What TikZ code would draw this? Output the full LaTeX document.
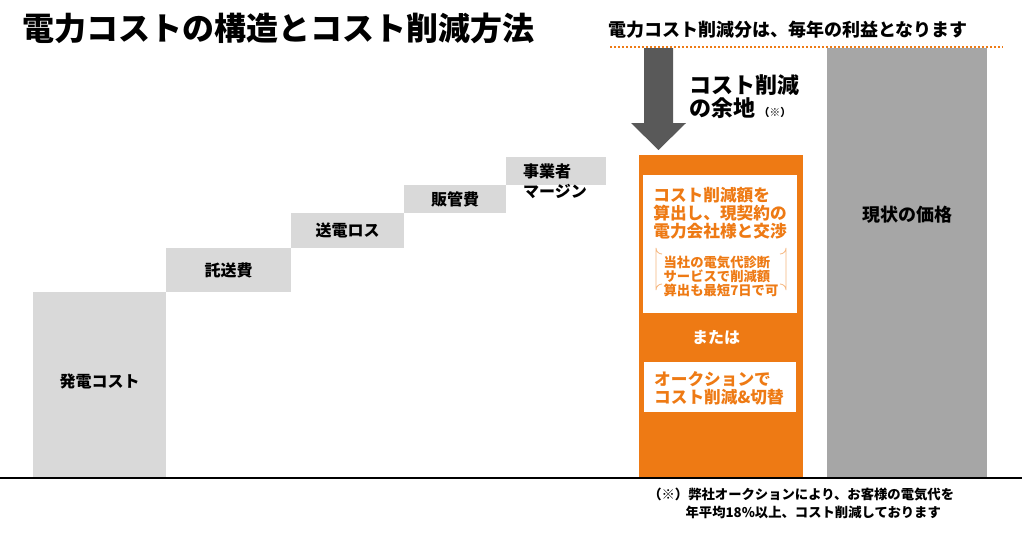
\documentclass[tikz,border=0pt]{standalone}
\usepackage{fontspec}
\setmainfont{Noto Sans CJK JP}
\usetikzlibrary{calc}
\definecolor{org}{HTML}{EE7A14}
\definecolor{lgray}{HTML}{D9D9D9}
\definecolor{dgray}{HTML}{A6A6A6}
\definecolor{arr}{HTML}{595959}
\begin{document}
\begin{tikzpicture}[x=0.75pt,y=-0.75pt,
  stepbox/.style={fill=lgray,draw=none},
  lab/.style={font=\bfseries\fontsize{12}{15}\selectfont,text=black,align=center,inner sep=0},
  otxt/.style={font=\bfseries\fontsize{12.5}{13.5}\selectfont,text=org,align=left,inner sep=0},
  stxt/.style={font=\bfseries\fontsize{10}{10.5}\selectfont,text=org,align=left,inner sep=0}]
\useasboundingbox (0,0) rectangle (1024,533);
% title
\node[anchor=west,inner sep=0,font=\bfseries\fontsize{24}{28}\selectfont] (title) at (22,28) {電力コストの構造とコスト削減方法};
\node[anchor=west,inner sep=0,font=\bfseries\fontsize{13.5}{16}\selectfont] (sub) at (608,30) {電力コスト削減分は、毎年の利益となります};
\draw[org,line width=2pt,dash pattern=on 1.5pt off 1.5pt] (610,47) -- (1003,47);
% steps
\fill[stepbox] (33,292) rectangle (166,478);
\node[lab] (s1) at (99.5,381) {発電コスト};
\fill[stepbox] (166,248) rectangle (291,292);
\node[lab] (s2) at (228.5,270) {託送費};
\fill[stepbox] (291,213) rectangle (404,248);
\node[lab] (s3) at (347.5,230) {送電ロス};
\fill[stepbox] (404,185) rectangle (506,213);
\node[lab] (s4) at (455,199) {販管費};
\fill[stepbox] (506,157) rectangle (606,185);
\node[lab,align=left] (s5) at (555,181) {事業者\\マージン};
% arrow
\fill[arr] (644,48) -- (673,48) -- (673,123) -- (686,123) -- (658.5,150) -- (631,123) -- (644,123) -- cycle;
\node[anchor=west,inner sep=0,font=\bfseries\fontsize{16.5}{19}\selectfont] (cut1) at (689,85) {コスト削減};
\node[anchor=west,inner sep=0,font=\bfseries\fontsize{16.5}{19}\selectfont] (cut2) at (689,108) {の余地\,{\fontsize{8}{9}\selectfont （※）}};
% orange column
\fill[org] (639,155) rectangle (803,478);
\fill[white] (643,175) rectangle (797,313);
\node[otxt] (o1) at (720,213) {コスト削減額を\\算出し、現契約の\\電力会社様と交渉};
\draw[org!55,line width=0.6pt] (662,254) arc[start angle=90,end angle=180,radius=6] -- (656,290) arc[start angle=180,end angle=270,radius=6];
\draw[org!55,line width=0.6pt] (780,254) arc[start angle=90,end angle=0,radius=6] -- (786,290) arc[start angle=0,end angle=-90,radius=6];
\node[stxt] (o2) at (721,276) {当社の電気代診断\\サービスで削減額\\算出も最短7日で可};
\node[font=\bfseries\fontsize{12}{14}\selectfont,text=white,inner sep=0] (or) at (716,337) {または};
\fill[white] (644,362) rectangle (796,412);
\node[otxt] (o3) at (719,388) {オークションで\\コスト削減\&切替};
% current price
\fill[dgray] (827,48) rectangle (987,478);
\node[font=\bfseries\fontsize{13.5}{16}\selectfont,inner sep=0] (cur) at (907,215) {現状の価格};
% baseline
\draw[black,line width=2.2pt] (0,478) -- (1022,478);
% footnote
\node[anchor=north west,inner sep=0,align=left,font=\bfseries\fontsize{10}{13.5}\selectfont] (fn) at (648,488) {（※）弊社オークションにより、お客様の電気代を\\\hspace{2.8em}年平均18\%以上、コスト削減しております};
\end{tikzpicture}
\end{document}
